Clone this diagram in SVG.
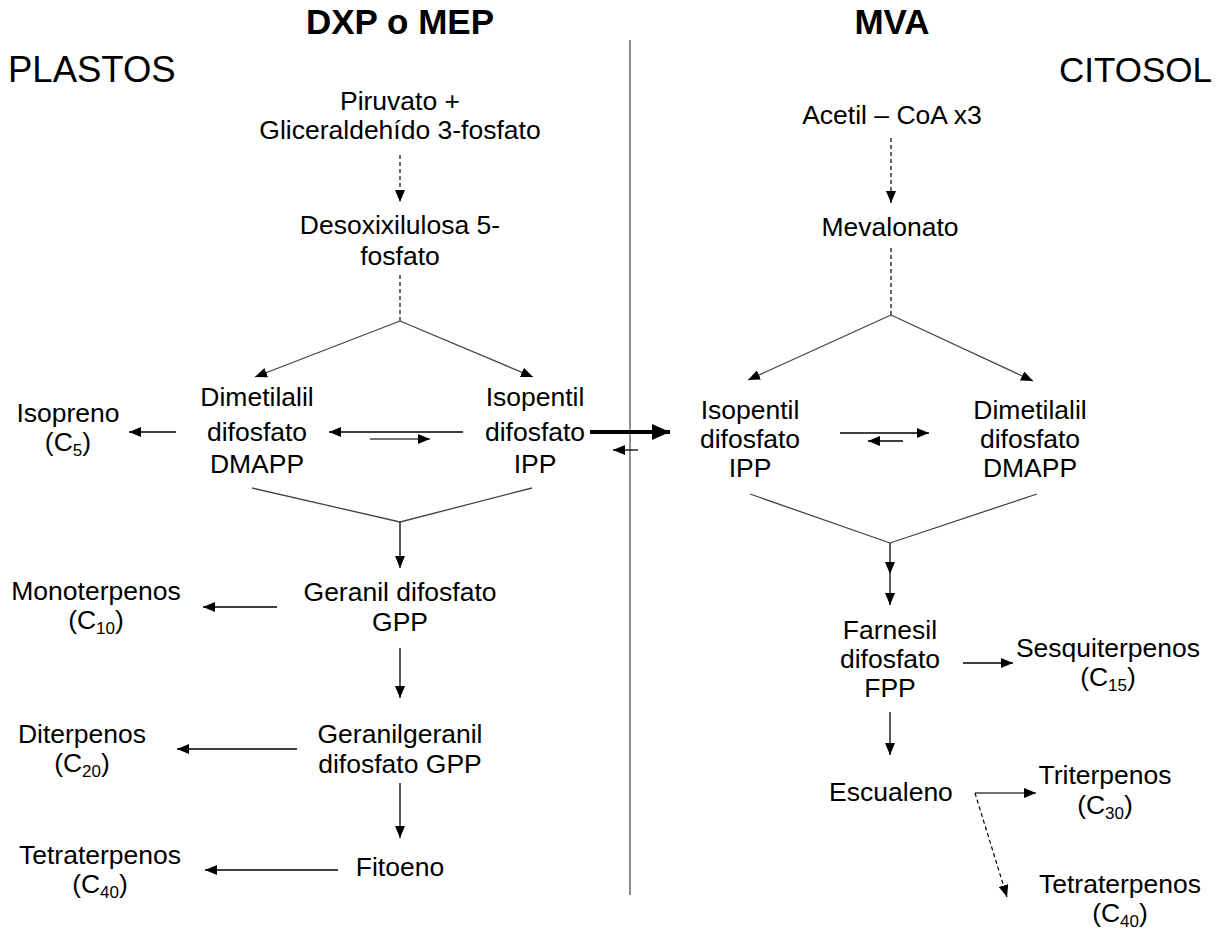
<svg xmlns="http://www.w3.org/2000/svg" width="1228" height="932" viewBox="0 0 1228 932">
<style>
text{font-family:"Liberation Sans",Arial,sans-serif;fill:#000;}
.b{font-size:26.5px;text-anchor:middle;}
.h{font-size:35px;font-weight:bold;text-anchor:middle;}
.r{font-size:35px;}
.sub{font-size:17px;}
.ln{stroke:#000;stroke-width:1.3;fill:none;}
.gl{stroke:#444;stroke-width:1.3;fill:none;}
.ds{stroke:#000;stroke-width:1.2;fill:none;stroke-dasharray:4,3;}
.ar{marker-end:url(#ah);}
</style>
<defs>
<marker id="ah" markerWidth="12" markerHeight="10" refX="12" refY="5" orient="auto" markerUnits="userSpaceOnUse"><path d="M0,0 L12,5 L0,10 z" fill="#000"/></marker>
<marker id="ahb" markerWidth="18" markerHeight="16" refX="18" refY="8" orient="auto" markerUnits="userSpaceOnUse"><path d="M0,0 L18,8 L0,16 z" fill="#000"/></marker>
</defs>
<rect width="1228" height="932" fill="#fff"/>
<g id="headers">
<text class="h" x="400" y="34">DXP o MEP</text>
<text class="h" x="892" y="34">MVA</text>
<text class="r" x="8" y="82" style="font-size:36.5px">PLASTOS</text>
<text class="r" x="1212" y="82" text-anchor="end">CITOSOL</text>
</g>
<line x1="630" y1="40" x2="630" y2="895" stroke="#555" stroke-width="1.3"/>
<g id="n_piruvato"><text class="b"><tspan x="400" y="110">Piruvato +</tspan><tspan x="400" y="139">Gliceraldehído 3-fosfato</tspan></text></g>
<g id="n_dxp"><text class="b"><tspan x="400" y="234">Desoxixilulosa 5-</tspan><tspan x="400" y="265">fosfato</tspan></text></g>
<g id="n_dmapp_l"><text class="b"><tspan x="257" y="406">Dimetilalil</tspan><tspan x="257" y="441">difosfato</tspan><tspan x="257" y="473">DMAPP</tspan></text></g>
<g id="n_ipp_l"><text class="b"><tspan x="535" y="406">Isopentil</tspan><tspan x="535" y="441">difosfato</tspan><tspan x="535" y="473">IPP</tspan></text></g>
<g id="n_isopreno"><text class="b"><tspan x="68" y="422">Isopreno</tspan><tspan x="68" y="451">(C<tspan class="sub" dy="5">5</tspan><tspan dy="-5">)</tspan></tspan></text></g>
<g id="n_gpp"><text class="b"><tspan x="400" y="601">Geranil difosfato</tspan><tspan x="400" y="631">GPP</tspan></text></g>
<g id="n_mono"><text class="b"><tspan x="96" y="600">Monoterpenos</tspan><tspan x="96" y="629">(C<tspan class="sub" dy="5">10</tspan><tspan dy="-5">)</tspan></tspan></text></g>
<g id="n_ggpp"><text class="b"><tspan x="400" y="743">Geranilgeranil</tspan><tspan x="400" y="773">difosfato GPP</tspan></text></g>
<g id="n_diter"><text class="b"><tspan x="82" y="743">Diterpenos</tspan><tspan x="82" y="772">(C<tspan class="sub" dy="5">20</tspan><tspan dy="-5">)</tspan></tspan></text></g>
<g id="n_fitoeno"><text class="b" x="400" y="876">Fitoeno</text></g>
<g id="n_tetra_l"><text class="b"><tspan x="100" y="864">Tetraterpenos</tspan><tspan x="100" y="893">(C<tspan class="sub" dy="5">40</tspan><tspan dy="-5">)</tspan></tspan></text></g>
<g id="n_acetil"><text class="b" x="892" y="124">Acetil – CoA x3</text></g>
<g id="n_mev"><text class="b" x="890" y="236">Mevalonato</text></g>
<g id="n_ipp_r"><text class="b"><tspan x="750" y="419">Isopentil</tspan><tspan x="750" y="448">difosfato</tspan><tspan x="750" y="477">IPP</tspan></text></g>
<g id="n_dmapp_r"><text class="b"><tspan x="1030" y="419">Dimetilalil</tspan><tspan x="1030" y="448">difosfato</tspan><tspan x="1030" y="477">DMAPP</tspan></text></g>
<g id="n_fpp"><text class="b"><tspan x="890" y="639">Farnesil</tspan><tspan x="890" y="668">difosfato</tspan><tspan x="890" y="697">FPP</tspan></text></g>
<g id="n_sesqui"><text class="b"><tspan x="1108" y="657">Sesquiterpenos</tspan><tspan x="1108" y="686">(C<tspan class="sub" dy="5">15</tspan><tspan dy="-5">)</tspan></tspan></text></g>
<g id="n_escualeno"><text class="b" x="891" y="801">Escualeno</text></g>
<g id="n_triter"><text class="b"><tspan x="1105" y="784">Triterpenos</tspan><tspan x="1105" y="814">(C<tspan class="sub" dy="5">30</tspan><tspan dy="-5">)</tspan></tspan></text></g>
<g id="n_tetra_r"><text class="b"><tspan x="1120" y="893">Tetraterpenos</tspan><tspan x="1120" y="922">(C<tspan class="sub" dy="5">40</tspan><tspan dy="-5">)</tspan></tspan></text></g>
<g id="connectors">
<line class="ds ar" x1="400" y1="155" x2="400" y2="202"/>
<line class="ds" x1="400" y1="275" x2="400" y2="321"/>
<line class="gl ar" x1="400" y1="321" x2="255" y2="377"/>
<line class="gl ar" x1="400" y1="321" x2="533" y2="377"/>
<line class="ln ar" x1="176" y1="432" x2="129" y2="432"/>
<line class="ln ar" x1="463" y1="432" x2="329" y2="432"/>
<line class="gl ar" x1="370" y1="439" x2="430" y2="439"/>
<line x1="590" y1="432" x2="670" y2="432" stroke="#000" stroke-width="4" marker-end="url(#ahb)"/>
<line class="ln ar" x1="638" y1="450" x2="613" y2="450"/>
<line class="gl" x1="252" y1="488" x2="400" y2="522"/>
<line class="gl" x1="532" y1="488" x2="400" y2="522"/>
<line class="ln ar" x1="400" y1="522" x2="400" y2="568"/>
<line class="ln ar" x1="277" y1="607" x2="203" y2="607"/>
<line class="ln ar" x1="400" y1="648" x2="400" y2="698"/>
<line class="ln ar" x1="297" y1="749" x2="177" y2="749"/>
<line class="ln ar" x1="400" y1="783" x2="400" y2="838"/>
<line class="ln ar" x1="338" y1="870" x2="205" y2="870"/>
<line class="ds ar" x1="891" y1="138" x2="891" y2="203"/>
<line class="ds" x1="891" y1="248" x2="891" y2="315"/>
<line class="gl ar" x1="891" y1="315" x2="748" y2="380"/>
<line class="gl ar" x1="891" y1="315" x2="1033" y2="381"/>
<line class="ln ar" x1="840" y1="433" x2="929" y2="433"/>
<line class="ln ar" x1="903" y1="441" x2="868" y2="441"/>
<line class="gl" x1="750" y1="494" x2="890" y2="543"/>
<line class="gl" x1="1037" y1="494" x2="890" y2="543"/>
<path class="ln" d="M890,543 L890,574 L890,605" marker-mid="url(#ah)" marker-end="url(#ah)"/>
<line class="ln ar" x1="963" y1="663" x2="1013" y2="663"/>
<line class="ln ar" x1="890" y1="712" x2="890" y2="755"/>
<line class="gl ar" x1="975" y1="793" x2="1036" y2="793"/>
<line class="ds ar" x1="975" y1="793" x2="1007" y2="897"/>
</g>
</svg>
